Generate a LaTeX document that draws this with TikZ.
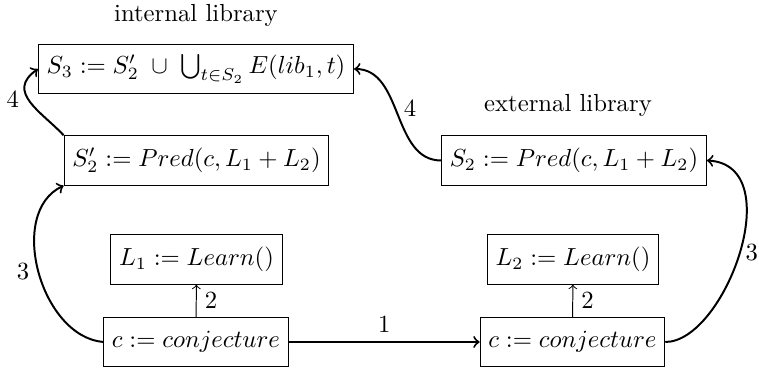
\documentclass[tikz,border=0pt]{standalone}
\usepackage{amsmath}
\begin{document}
\begin{tikzpicture}[x=0.4049pt,y=-0.4049pt,
  box/.style={draw, minimum height=20pt, inner sep=3.33pt},
  plain/.style={inner sep=0pt},
  flow/.style={->, thick},
  thinflow/.style={->}]
\useasboundingbox (0,0) rectangle (759,369);
\node[plain] (intlib) at (196,15) {internal library};
\node[plain] (extlib) at (568,105) {external library};
\node[box] (s3) at (196,69) {$S_3 := S'_2 \;\cup\; \bigcup_{t \in S_2} E(lib_1, t)$};
\node[box] (s2p) at (196.5,160.5) {$S'_2 := Pred(c, L_1 + L_2)$};
\node[box] (s2) at (574,160.5) {$S_2 := Pred(c, L_1 + L_2)$};
\node[box] (l1) at (196.5,259.5) {$L_1 := Learn()$};
\node[box] (l2) at (573,259.5) {$L_2 := Learn()$};
\node[box] (c1) at (196,342) {$c := conjecture$};
\node[box] (c2) at (572.5,342) {$c := conjecture$};
\draw[flow] (c1) -- node[above] {1} (c2);
\draw[thinflow] (c1) -- node[right] {2} (l1);
\draw[thinflow] (c2) -- node[right] {2} (l2);
\draw[flow] (c1.west) to[out=175,in=-155] node[left,pos=0.5] {3} (s2p.south west);
\draw[flow] (c2.east) .. controls (725,342) and (790,165) .. node[right,pos=0.5,inner sep=2pt] {3} (s2.east);
\draw[flow] (s2.west) to[out=180,in=0] node[right,pos=0.55] {4} (s3.east);
\draw[flow] (s2p.north west) .. controls (42,112) and (5,92) .. node[left,pos=0.55] {4} (s3.west);
\end{tikzpicture}
\end{document}
